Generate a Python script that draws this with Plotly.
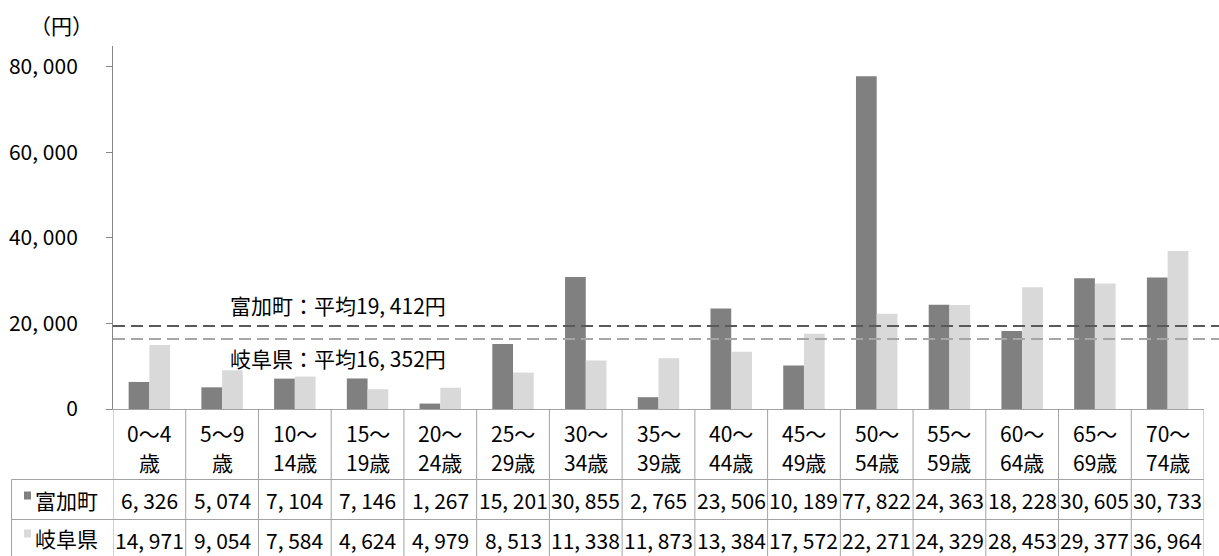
import plotly.graph_objects as go

# ---------------- data ----------------
categories = ["0～4<br>歳", "5～9<br>歳", "10～<br>14歳", "15～<br>19歳", "20～<br>24歳",
              "25～<br>29歳", "30～<br>34歳", "35～<br>39歳", "40～<br>44歳", "45～<br>49歳",
              "50～<br>54歳", "55～<br>59歳", "60～<br>64歳", "65～<br>69歳", "70～<br>74歳"]
tomika = [6326, 5074, 7104, 7146, 1267, 15201, 30855, 2765, 23506, 10189,
          77822, 24363, 18228, 30605, 30733]
gifu = [14971, 9054, 7584, 4624, 4979, 8513, 11338, 11873, 13384, 17572,
        22271, 24329, 28453, 29377, 36964]
series_names = ["富加町", "岐阜県"]
avg_tomika = 19412
avg_gifu = 16352
y_tick_vals = [0, 20000, 40000, 60000, 80000]
y_tick_text = ["0", "20, 000", "40, 000", "60, 000", "80, 000"]
y_unit = "（円）"

# ---------------- style ----------------
FONT = "Noto Sans CJK JP"
FS = 21
DARK = "#808080"
LIGHT = "#d9d9d9"
GRID = "#a3a3a3"
W, H = 1219, 556
L, R, T, B = 113, 15, 46, 147
PW = W - L - R
PH = H - T - B
ZERO_PX = T + PH


def px_x(px):
    return (px - L) / PW


def px_y(py):
    return (ZERO_PX - py) / PH


def fmt(v):
    return f"{v:,}".replace(",", ", ")


fig = go.Figure()
fig.add_trace(go.Bar(x=categories, y=tomika, name=series_names[0],
                     marker=dict(color=DARK, line=dict(width=0))))
fig.add_trace(go.Bar(x=categories, y=gifu, name=series_names[1],
                     marker=dict(color=LIGHT, line=dict(width=0))))

shapes = []
annotations = []

# average dashed lines
shapes.append(dict(type="line", xref="paper", yref="y", x0=0, x1=px_x(1219), y0=avg_tomika, y1=avg_tomika,
                   line=dict(color="#595959", width=2, dash="12px,6px"), layer="above"))
shapes.append(dict(type="line", xref="paper", yref="y", x0=0, x1=px_x(1219), y0=avg_gifu, y1=avg_gifu,
                   line=dict(color="#a6a6a6", width=2, dash="12px,6px"), layer="above"))

annotations.append(dict(xref="paper", yref="paper", x=px_x(448), y=px_y(305), xanchor="right", yanchor="middle",
                        text=f"{series_names[0]}：平均{fmt(avg_tomika)}円", showarrow=False,
                        font=dict(family=FONT, size=FS, color="black")))
annotations.append(dict(xref="paper", yref="paper", x=px_x(448), y=px_y(358), xanchor="right", yanchor="middle",
                        text=f"{series_names[1]}：平均{fmt(avg_gifu)}円", showarrow=False,
                        font=dict(family=FONT, size=FS, color="black")))

# unit label
annotations.append(dict(xref="paper", yref="paper", x=px_x(61), y=px_y(25), xanchor="center", yanchor="middle",
                        text=y_unit, showarrow=False, font=dict(family=FONT, size=FS, color="black")))

# ---------------- data table ----------------
row1_bottom = px_y(479.5)
row2_bottom = px_y(519.5)
table_bottom = px_y(H + 2)
left_edge = px_x(11.5)

n = len(categories)
for i in range(n + 1):
    shapes.append(dict(type="line", xref="x", yref="paper", x0=i - 0.5, x1=i - 0.5,
                       y0=0, y1=table_bottom, line=dict(color=GRID, width=1)))
shapes.append(dict(type="line", xref="paper", yref="paper", x0=left_edge, x1=left_edge,
                   y0=row1_bottom, y1=table_bottom, line=dict(color=GRID, width=1)))
for yy in (row1_bottom, row2_bottom):
    shapes.append(dict(type="line", xref="paper", yref="paper", x0=left_edge, x1=1,
                       y0=yy, y1=yy, line=dict(color=GRID, width=1)))

# legend keys
for name, color, cy in ((series_names[0], DARK, 495.5), (series_names[1], LIGHT, 533.5)):
    shapes.append(dict(type="rect", xref="paper", yref="paper", x0=px_x(24), x1=px_x(31),
                       y0=px_y(cy + 4), y1=px_y(cy - 4), fillcolor=color, line=dict(width=0)))
    annotations.append(dict(xref="paper", yref="paper", x=px_x(33), y=px_y(cy + 4), xanchor="left",
                            yanchor="middle", text=name, showarrow=False,
                            font=dict(family=FONT, size=FS, color="black")))

for cat, v1, v2 in zip(categories, tomika, gifu):
    l1, l2 = cat.split("<br>")
    annotations.append(dict(xref="x", yref="paper", x=cat, y=px_y(433), xanchor="center", yanchor="middle",
                            text=l1, showarrow=False, font=dict(family=FONT, size=FS, color="black")))
    annotations.append(dict(xref="x", yref="paper", x=cat, y=px_y(462), xanchor="center", yanchor="middle",
                            text=l2, showarrow=False, font=dict(family=FONT, size=FS, color="black")))
    annotations.append(dict(xref="x", yref="paper", x=cat, y=px_y(500), xanchor="center", yanchor="middle",
                            text=fmt(v1), showarrow=False, font=dict(family=FONT, size=FS, color="black")))
    annotations.append(dict(xref="x", yref="paper", x=cat, y=px_y(540), xanchor="center", yanchor="middle",
                            text=fmt(v2), showarrow=False, font=dict(family=FONT, size=FS, color="black")))

fig.update_layout(
    width=W, height=H,
    margin=dict(l=L, r=R, t=T, b=B, autoexpand=False),
    paper_bgcolor="white", plot_bgcolor="white",
    barmode="group", bargap=0.43, bargroupgap=0,
    showlegend=False,
    font=dict(family=FONT, size=FS, color="black"),
    shapes=shapes, annotations=annotations,
    xaxis=dict(type="category", range=[-0.5, n - 0.5], showticklabels=False, ticks="",
               showline=True, linecolor=GRID, linewidth=1, showgrid=False, zeroline=False,
               fixedrange=True),
    yaxis=dict(range=[0, 84900], tickvals=y_tick_vals, ticktext=y_tick_text,
               ticks="outside", ticklen=6, tickcolor="#868686", tickwidth=1,
               showline=True, linecolor="#868686", linewidth=1, showgrid=False, zeroline=False,
               ticklabelstandoff=24, tickfont=dict(family=FONT, size=FS, color="black"),
               fixedrange=True),
)

fig.write_html("out.html")
